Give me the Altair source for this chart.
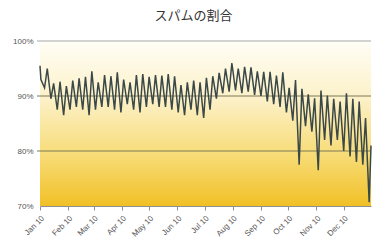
import altair as alt
import pandas as pd

# Weekly peaks (Saturdays) and troughs (Wednesdays), spam share in %
peaks = [
    93.0, 95.0, 92.3, 92.6, 91.8,          # Jan
    92.8, 93.2, 93.5, 94.5,                # Feb
    92.5, 93.8, 93.6, 94.3,                # Mar
    93.0, 92.5, 93.8, 94.0,                # Apr
    93.5, 93.8, 93.7, 94.0, 93.6,          # May
    92.0, 92.5, 92.8, 92.5,                # Jun
    93.3, 93.6, 94.2, 95.0, 96.0,          # Jul
    95.0, 95.3, 95.2, 94.5,                # Aug
    94.4, 94.4, 93.7, 94.3,                # Sep
    91.5, 92.9, 91.3, 90.3, 89.6,          # Oct
    91.0, 90.1, 89.5, 89.0,                # Nov
    90.5, 89.5, 89.0, 86.0,                # Dec
]
troughs = [
    91.5, 89.5, 87.5, 86.5,                # Jan
    87.5, 88.0, 87.5, 86.5,                # Feb
    87.5, 88.0, 88.0, 87.5,                # Mar
    87.0, 88.5, 87.5, 87.0, 88.0,          # Apr
    88.5, 88.0, 88.0, 87.5,                # May
    87.0, 86.5, 87.5, 86.5, 86.0,          # Jun
    87.5, 89.5, 90.5, 90.8,                # Jul
    91.0, 90.5, 90.8, 90.2,                # Aug
    90.0, 89.0, 88.5, 88.0, 87.0,          # Sep
    85.5, 77.5, 84.5, 83.5,                # Oct
    76.5, 82.0, 81.0, 82.0,                # Nov
    80.0, 79.0, 78.0, 77.5, 70.7,          # Dec
]
start_value = 95.5
end_value = 81.0
gridlines = [80, 90]
y_ticks = [70, 80, 90, 100]

sat = pd.date_range("2010-01-02", periods=len(peaks), freq="7D")
wed = pd.date_range("2010-01-06", periods=len(troughs), freq="7D")
rows = [{"date": pd.Timestamp("2010-01-01"), "v": start_value}]
rows += [{"date": d, "v": v} for d, v in zip(sat, peaks)]
rows += [{"date": d, "v": v} for d, v in zip(wed, troughs)]
rows += [{"date": pd.Timestamp("2010-12-31"), "v": end_value}]
df = pd.DataFrame(rows).sort_values("date")
df["date"] = df["date"].dt.strftime("%Y-%m-%d")

W, H = 331, 165

xscale = alt.Scale(domain=["2010-01-01", "2010-12-31"])
yscale = alt.Scale(domain=[70, 100], nice=False)

bg = alt.Chart(pd.DataFrame({"a": [0]})).mark_rect(
    color=alt.Gradient(
        gradient="linear",
        stops=[
            alt.GradientStop(color="#FFFEF6", offset=0),
            alt.GradientStop(color="#FCF1C8", offset=0.35),
            alt.GradientStop(color="#F7DB74", offset=0.7),
            alt.GradientStop(color="#F1C027", offset=1),
        ],
        x1=0, x2=0, y1=0, y2=1,
    )
).encode(x=alt.value(0), x2=alt.value(W), y=alt.value(0), y2=alt.value(H))

top_rule = alt.Chart(pd.DataFrame({"y": [100]})).mark_rule(
    color="#c4c4c4", strokeWidth=1.5
).encode(y=alt.Y("y:Q", scale=yscale), x=alt.value(-3), x2=alt.value(W))

grid = alt.Chart(pd.DataFrame({"y": gridlines})).mark_rule(
    color="#7d7856", strokeWidth=1
).encode(y=alt.Y("y:Q", scale=yscale), x=alt.value(-3), x2=alt.value(W))

line = alt.Chart(df).mark_line(color="#3b4848", strokeWidth=1.5).encode(
    x=alt.X(
        "date:T",
        scale=xscale,
        axis=alt.Axis(
            title=None,
            format="%b %y",
            tickCount={"interval": "month", "step": 1},
            labelAngle=-45,
            labelFontSize=8,
            labelColor="#555555",
            labelFont="Liberation Sans",
            domainColor="#8f8f8f",
            tickColor="#8f8f8f",
            tickSize=4,
            grid=False,
            labelPadding=4,
        ),
    ),
    y=alt.Y(
        "v:Q",
        scale=yscale,
        axis=alt.Axis(
            title=None,
            values=y_ticks,
            labelExpr="datum.value + '%'",
            labelFontSize=8,
            labelColor="#555555",
            labelFont="Liberation Sans",
            domain=False,
            ticks=False,
            grid=False,
            labelPadding=7,
        ),
    ),
)

chart = alt.layer(bg, top_rule, grid, line).properties(
    width=W,
    height=H,
    title=alt.TitleParams(
        "スパムの割合",
        fontSize=13,
        fontWeight="normal",
        color="#333333",
        font="Noto Sans CJK JP",
        dx=-12,
        offset=14,
    ),
    padding={"left": 40, "top": 41, "right": 12, "bottom": 42},
    autosize=alt.AutoSizeParams(type="none"),
).configure_view(stroke=None)

chart.save("out.html", embed_options={"renderer": "svg", "actions": False})
